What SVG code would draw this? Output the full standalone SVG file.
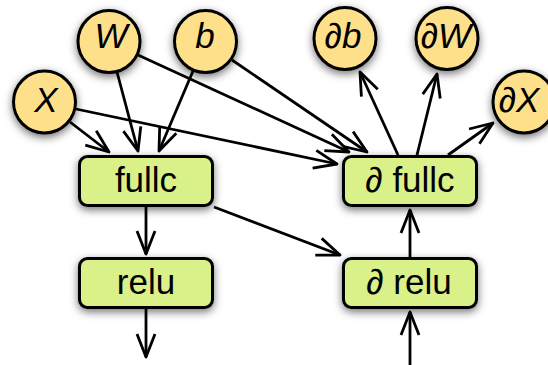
<svg xmlns="http://www.w3.org/2000/svg" width="548" height="365" viewBox="0 0 548 365">
<defs>
<style>
.circ{fill:#FFE08A;stroke:#000;stroke-width:3}
.box{fill:#DAF088;stroke:#000;stroke-width:3}
.lbl{font-family:"Liberation Sans",Arial,sans-serif;font-size:35px;text-anchor:middle;fill:#000}
.it{font-style:italic}
.edge{fill:none;stroke:#000;stroke-width:2.8;marker-end:url(#arr)}
</style>
<filter id="sh" x="-40%" y="-40%" width="180%" height="180%">
<feDropShadow dx="0" dy="3" stdDeviation="4" flood-color="#000" flood-opacity="0.55"/>
</filter>
<marker id="arr" markerUnits="userSpaceOnUse" refX="0" refY="0" markerWidth="30" markerHeight="30" orient="auto" overflow="visible">
<path d="M-23,-9 L0,0 L-23,9" fill="none" stroke="#000" stroke-width="2.8" stroke-linejoin="round" stroke-linecap="butt"/>
</marker>
</defs>
<rect width="548" height="365" fill="#fff"/>
<g id="connectors">
<line class="edge" x1="70" y1="122" x2="109" y2="152"/>
<line class="edge" x1="117" y1="72" x2="138" y2="151"/>
<line class="edge" x1="193" y1="71" x2="159" y2="151"/>
<line class="edge" x1="76" y1="109" x2="337" y2="164"/>
<line class="edge" x1="138" y1="55" x2="349" y2="152"/>
<line class="edge" x1="232" y1="60" x2="367" y2="152"/>
<line class="edge" x1="146" y1="207" x2="146" y2="254"/>
<line class="edge" x1="146" y1="309" x2="146" y2="357"/>
<line class="edge" x1="214" y1="207" x2="340" y2="255"/>
<line class="edge" x1="410" y1="257" x2="410" y2="210"/>
<line class="edge" x1="410" y1="365" x2="410" y2="312"/>
<line class="edge" x1="398" y1="155" x2="360" y2="72"/>
<line class="edge" x1="417" y1="155" x2="437" y2="74"/>
<line class="edge" x1="448" y1="155" x2="493" y2="123"/>
</g>
<g id="W"><circle class="circ" filter="url(#sh)" cx="109" cy="41.5" r="31"/><text class="lbl it" x="111" y="48">W</text></g>
<g id="b"><circle class="circ" filter="url(#sh)" cx="205.5" cy="41.5" r="31"/><text class="lbl it" x="205" y="48">b</text></g>
<g id="X"><circle class="circ" filter="url(#sh)" cx="44.5" cy="102" r="31"/><text class="lbl it" x="46" y="112">X</text></g>
<g id="db"><circle class="circ" filter="url(#sh)" cx="345" cy="38.5" r="31"/><text class="lbl it" x="343" y="48">∂b</text></g>
<g id="dW"><circle class="circ" filter="url(#sh)" cx="447" cy="38.5" r="31"/><text class="lbl it" x="446" y="48">∂W</text></g>
<g id="dX"><circle class="circ" filter="url(#sh)" cx="524" cy="102" r="31"/><text class="lbl it" x="519" y="112">∂X</text></g>
<g id="fullc"><rect class="box" filter="url(#sh)" x="79.5" y="156.5" width="133" height="49" rx="8"/><text class="lbl" x="146" y="192">fullc</text></g>
<g id="relu"><rect class="box" filter="url(#sh)" x="79.5" y="258.5" width="133" height="49" rx="8"/><text class="lbl" x="146" y="294">relu</text></g>
<g id="dfullc"><rect class="box" filter="url(#sh)" x="343.5" y="156.5" width="133" height="49" rx="8"/><text class="lbl" x="410" y="192">∂ fullc</text></g>
<g id="drelu"><rect class="box" filter="url(#sh)" x="343.5" y="258.5" width="133" height="49" rx="8"/><text class="lbl" x="409" y="294">∂ relu</text></g>
</svg>
